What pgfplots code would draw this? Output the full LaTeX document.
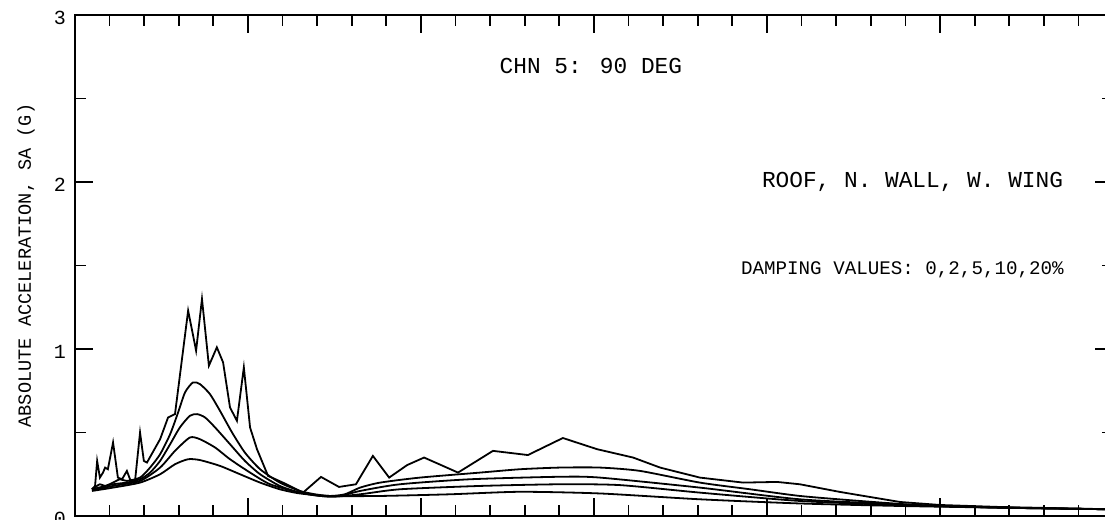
\documentclass[border=0pt]{standalone}
\usepackage{pgfplots}
\pgfplotsset{compat=1.18}
\usepackage{fontspec}
\setmainfont{Liberation Mono}

\begin{document}
\begin{tikzpicture}[curve/.style={black, line width=0.9pt, mark=none}]
\begin{axis}[
  name=ax,
  scale only axis,
  width=519pt, height=250.5pt,
  xmin=0, xmax=3, ymin=0, ymax=3,
  axis line style={line width=1pt},
  xtick={0,0.5,...,3}, minor xtick={0,0.1,...,3},
  ytick={0,1,2,3}, minor ytick={0.5,1.5,2.5},
  xticklabels={},
  tick align=inside,
  major tick length=9pt, minor tick length=5.5pt,
  every tick/.style={black, line width=0.9pt},
  yticklabel style={font=\fontsize{10}{10}\selectfont, xshift=-1pt, yshift=-1.5pt},
  /pgf/number format/assume math mode=true,
  ylabel={ABSOLUTE ACCELERATION, SA (G)},
  ylabel style={font=\fontsize{9.3}{9.3}\selectfont, at={(axis description cs:-0.0472,0.5)}, anchor=center},
  clip=true
]

% 0% damping
\addplot[curve, sharp plot] coordinates {
(0.049,0.16) (0.058,0.18) (0.064,0.33) (0.072,0.23) (0.081,0.26) (0.087,0.29)
(0.095,0.28) (0.110,0.44) (0.124,0.23) (0.136,0.22) (0.150,0.27) (0.159,0.22)
(0.173,0.20) (0.188,0.50) (0.199,0.33) (0.208,0.32) (0.246,0.46) (0.269,0.59)
(0.289,0.61) (0.327,1.23) (0.350,0.99) (0.367,1.30) (0.387,0.90) (0.410,1.01)
(0.428,0.92) (0.448,0.65) (0.468,0.57) (0.488,0.89) (0.506,0.53) (0.526,0.40)
(0.558,0.24) (0.601,0.20) (0.659,0.14) (0.711,0.234) (0.763,0.174) (0.812,0.19)
(0.861,0.36) (0.908,0.23) (0.960,0.305) (1.009,0.35) (1.107,0.26) (1.208,0.39)
(1.309,0.365) (1.410,0.467) (1.509,0.40) (1.613,0.35) (1.691,0.29) (1.806,0.23)
(1.931,0.20) (2.029,0.204) (2.095,0.19) (2.211,0.144) (2.384,0.084) (2.500,0.066)
(2.673,0.054) (3.0,0.04)
};

% 2% damping
\addplot[curve, smooth, tension=0.4] coordinates {
(0.049,0.16) (0.072,0.19) (0.087,0.18) (0.110,0.20) (0.130,0.22) (0.150,0.21)
(0.188,0.23) (0.217,0.29) (0.246,0.37) (0.275,0.49) (0.298,0.62) (0.318,0.74)
(0.341,0.80) (0.361,0.79) (0.390,0.73) (0.419,0.63) (0.454,0.50) (0.491,0.38)
(0.535,0.28) (0.592,0.20) (0.650,0.15) (0.694,0.13) (0.737,0.12) (0.780,0.13)
(0.824,0.17) (0.882,0.20) (0.997,0.23) (1.171,0.26) (1.286,0.28) (1.402,0.29)
(1.517,0.29) (1.633,0.27) (1.806,0.20) (1.951,0.16) (2.095,0.12) (2.269,0.09)
(2.442,0.065) (2.673,0.05) (3.0,0.04)
};

% 5% damping
\addplot[curve, smooth, tension=0.4] coordinates {
(0.049,0.16) (0.110,0.19) (0.150,0.20) (0.188,0.22) (0.217,0.26) (0.246,0.33)
(0.275,0.43) (0.303,0.53) (0.332,0.60) (0.353,0.61) (0.376,0.59) (0.405,0.53)
(0.448,0.43) (0.491,0.33) (0.535,0.25) (0.592,0.18) (0.650,0.14) (0.708,0.12)
(0.766,0.12) (0.824,0.15) (0.939,0.19) (1.142,0.22) (1.402,0.235) (1.517,0.23)
(1.806,0.17) (2.095,0.10) (2.384,0.07) (2.673,0.05) (3.0,0.04)
};

% 10% damping
\addplot[curve, smooth, tension=0.4] coordinates {
(0.049,0.155) (0.110,0.18) (0.188,0.21) (0.246,0.29) (0.289,0.39) (0.332,0.47)
(0.361,0.46) (0.405,0.41) (0.448,0.34) (0.506,0.26) (0.564,0.19) (0.650,0.14)
(0.737,0.115) (0.824,0.13) (0.939,0.16) (1.171,0.18) (1.402,0.19) (1.575,0.185)
(1.806,0.14) (2.095,0.09) (2.384,0.065) (2.673,0.05) (3.0,0.04)
};

% 20% damping
\addplot[curve, smooth, tension=0.4] coordinates {
(0.049,0.15) (0.110,0.17) (0.188,0.20) (0.246,0.25) (0.289,0.31) (0.327,0.34)
(0.361,0.335) (0.419,0.30) (0.477,0.25) (0.535,0.20) (0.592,0.16) (0.650,0.135)
(0.737,0.12) (0.882,0.12) (1.084,0.13) (1.286,0.145) (1.517,0.135) (1.806,0.10)
(2.095,0.075) (2.384,0.06) (2.673,0.05) (3.0,0.04)
};

\node[font=\fontsize{11.4}{11.4}\selectfont] at (axis cs:1.491,2.695) {CHN 5: 90 DEG};
\node[font=\fontsize{11.4}{11.4}\selectfont, anchor=east] at (axis cs:2.876,2.0) {ROOF, N. WALL, W. WING};
\node[font=\fontsize{9.6}{9.6}\selectfont, anchor=east] at (axis cs:2.878,1.473) {DAMPING VALUES: 0,2,5,10,20\%};
\end{axis}
\pgfresetboundingbox
\path[use as bounding box] ([xshift=-37.5pt,yshift=-2pt]ax.south west) rectangle ([xshift=515pt,yshift=7.5pt]ax.north west);
\end{tikzpicture}
\end{document}
